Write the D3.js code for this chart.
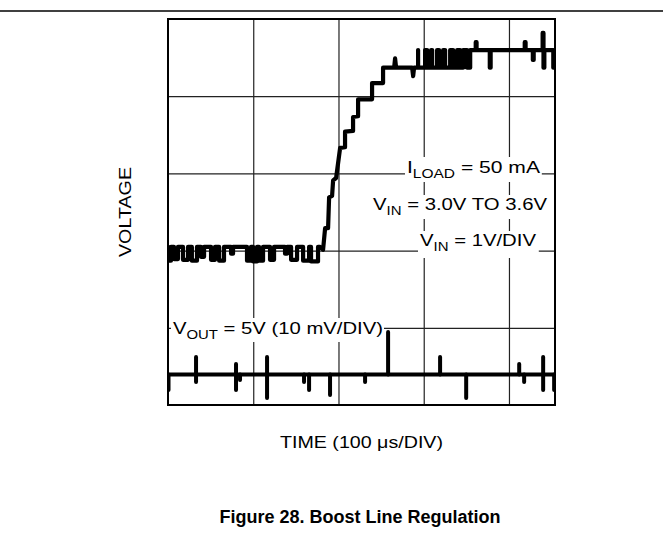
<!DOCTYPE html>
<html><head><meta charset="utf-8">
<script src="https://cdn.jsdelivr.net/npm/d3@7"></script>
<style>
body{margin:0;background:#fff}
text{font-family:Arial,"Liberation Sans",Helvetica,sans-serif;fill:#000}
</style>
</head><body>
<svg id="chart" width="663" height="544"></svg>
<script>
// ---- data ----
const timeDomain = [0, 454];          // μs (100 μs/DIV)
const divDomain = [0, 5];             // screen divisions
const timeTicks = [100, 200, 300, 400];
const divTicks = [1, 2, 3, 4];

// VIN trace (divisions)
const vinLowLevel = 2.047;
const vinHighLevel = 4.598;
// low-level noise pulses: [t start, t end, level]
const vinLowPulses = [
  [0,3.5,1.87],[7,11.7,1.89],[17.6,23.5,1.88],[28,34,1.87],[38.7,42.3,1.92],
  [50.5,55.2,1.88],[60,65.7,1.87],[74,76.3,1.96],[92.7,97.4,1.87],[99.8,104.5,1.86],
  [106.8,111.5,1.87],[119.7,124.4,1.88],[137.3,139.7,1.96],[144.4,151.4,1.88],
  [158.5,165.5,1.87],[167.8,176,1.86]
];
// rising staircase: [t, level]
const vinRise = [
  [178.4,2.047],[181.9,2.01],[184.3,2.29],[187.8,2.29],[189,2.69],[192.5,2.71],
  [193.7,2.91],[197.2,2.94],[199.5,3.13],[201.9,3.33],[207.7,3.34],[207.7,3.54],
  [217.1,3.55],[217.1,3.73],[223,3.74],[223,3.96],[239.4,3.96],[239.4,4.17],
  [252.3,4.17],[252.3,4.37],[265.3,4.37],[266.4,4.49],[267.6,4.37],[286.4,4.37],
  [287.6,4.26],[288.7,4.37],[293.4,4.37],[293.4,4.598]
];
// high-level noise pulses: [t start, t end, level]
const vinHighPulses = [
  [293.4,301.6,4.37],[304,308.7,4.37],[309.9,315.7,4.37],[318,322.8,4.37],
  [325.1,331,4.37],[334.5,339.2,4.37],[342.7,346.2,4.37],[350.9,354.5,4.37],
  [361,362,4.70],[377.5,378.5,4.37],[418.5,419.5,4.70],[428,429,4.47],
  [439.5,440.5,4.82],[440.5,441.5,4.37],[452,454.2,4.37]
];

// VOUT trace (divisions)
const voutLevel = 0.395;
// spikes: [t, top, bottom]
const voutSpikes = [
  [0.6,0.395,0.194],[32.9,0.622,0.298],[79.8,0.531,0.194],[84.5,0.395,0.324],
  [116.2,0.622,0.091],[159.6,0.395,0.298],[165.5,0.395,0.194],[190.1,0.395,0.130],
  [231.2,0.395,0.298],[258.2,0.946,0.395],[319.2,0.622,0.395],[349.8,0.395,0.091],
  [412,0.531,0.395],[417.8,0.395,0.298],[440.1,0.622,0.194],[453,0.395,0.194]
];

// labels
const labelILoad = [["I"],["LOAD",1],[" = 50 mA"]];
const labelVinRange = [["V"],["IN",1],[" = 3.0V TO 3.6V"]];
const labelVinScale = [["V"],["IN",1],[" = 1V/DIV"]];
const labelVout = [["V"],["OUT",1],[" = 5V (10 mV/DIV)"]];
const xTitle = "TIME (100 μs/DIV)";
const yTitle = "VOLTAGE";
const figTitle = "Figure 28. Boost Line Regulation";

// ---- layout ----
const svg = d3.select("#chart");
const L = 168, R = 555, T = 19, B = 405;
const x = d3.scaleLinear().domain(timeDomain).range([L, R]);
const y = d3.scaleLinear().domain(divDomain).range([B, T]);

svg.append("line").attr("x1",0).attr("x2",663).attr("y1",11).attr("y2",11)
  .attr("stroke","#000").attr("stroke-width",1.5);

// grid via axes
const gx = svg.append("g").attr("transform",`translate(0,${B})`)
  .call(d3.axisBottom(x).tickValues(timeTicks).tickSize(-(B-T)).tickFormat("").tickSizeOuter(0));
const gy = svg.append("g").attr("transform",`translate(${L},0)`)
  .call(d3.axisLeft(y).tickValues(divTicks).tickSize(-(R-L)).tickFormat("").tickSizeOuter(0));
[gx, gy].forEach(g => {
  g.select(".domain").remove();
  g.selectAll(".tick line").attr("stroke","#222").attr("stroke-width",1.2);
});

// labels with white backing
const lblLayer = svg.append("g");
function label(parts, xPos, yPos, len, pad) {
  const g = lblLayer.append("g");
  const rect = g.append("rect").attr("fill","#fff");
  const t = g.append("text").attr("x",xPos).attr("y",yPos).attr("font-size",17)
    .attr("textLength",len).attr("lengthAdjust","spacingAndGlyphs");
  parts.forEach(([s, sub]) => {
    const ts = t.append("tspan").text(s);
    if (sub) ts.attr("font-size",12.5).attr("dy",5);
    else if (t.selectAll("tspan").size() > 1) ts.attr("dy",-5);
  });
  const bb = t.node().getBBox();
  rect.attr("x",bb.x - pad[0]).attr("y",bb.y - pad[1])
      .attr("width",bb.width + pad[0] + pad[2]).attr("height",bb.height + pad[1] + pad[3]);
}
label(labelILoad, 407, 173, 133, [2,1,1,1]);
label(labelVinRange, 373, 210, 174, [2,0,1,1]);
label(labelVinScale, 420, 246, 116, [2,0,2,4]);
label(labelVout, 173, 334, 210, [2,1,1,0]);

// traces
const plot = svg.append("g");
svg.append("clipPath").attr("id","clip").append("rect")
  .attr("x",L).attr("y",T).attr("width",R-L).attr("height",B-T);
plot.attr("clip-path","url(#clip)");

function pulsePoints(pulses, base) {
  const pts = [];
  pulses.forEach(([t0,t1,lv]) => { pts.push([t0,base],[t0,lv],[t1,lv],[t1,base]); });
  return pts;
}
const vinPts = [[timeDomain[0]-2, vinLowLevel]]
  .concat(pulsePoints(vinLowPulses, vinLowLevel))
  .concat(vinRise)
  .concat(pulsePoints(vinHighPulses, vinHighLevel))
  .concat([[timeDomain[1]+2, vinHighLevel]]);

const line = d3.line().x(d => x(d[0])).y(d => y(d[1]));
plot.append("path").attr("d", line(vinPts)).attr("fill","none")
  .attr("stroke","#000").attr("stroke-width",4.2).attr("stroke-linejoin","round");

plot.append("path").attr("d", line([[timeDomain[0]-2, voutLevel],[timeDomain[1]+2, voutLevel]]))
  .attr("fill","none").attr("stroke","#000").attr("stroke-width",4);
plot.selectAll("line.spk").data(voutSpikes).join("line").attr("class","spk")
  .attr("x1",d=>x(d[0])).attr("x2",d=>x(d[0]))
  .attr("y1",d=>y(d[1])).attr("y2",d=>y(d[2]))
  .attr("stroke","#000").attr("stroke-width",4).attr("stroke-linecap","round");

// border
svg.append("rect").attr("x",L).attr("y",T).attr("width",R-L).attr("height",B-T)
  .attr("fill","none").attr("stroke","#000").attr("stroke-width",2);

// axis titles
svg.append("text").attr("x",(L+R)/2).attr("y",448).attr("text-anchor","middle")
  .attr("font-size",17).attr("textLength",163).attr("lengthAdjust","spacingAndGlyphs").text(xTitle);
svg.append("text").attr("transform",`translate(131,${(T+B)/2}) rotate(-90)`)
  .attr("text-anchor","middle").attr("font-size",17)
  .attr("textLength",90).attr("lengthAdjust","spacingAndGlyphs").text(yTitle);
svg.append("text").attr("x",360).attr("y",523).attr("text-anchor","middle")
  .attr("font-size",18).attr("font-weight","bold").text(figTitle);
</script>
</body></html>
